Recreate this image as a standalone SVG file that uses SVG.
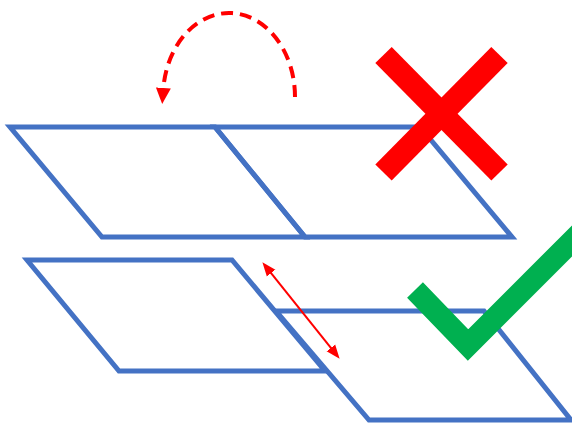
<svg xmlns="http://www.w3.org/2000/svg" width="572" height="423" viewBox="0 0 572 423">
<style>
.para{fill:none;stroke:#4472C4;stroke-width:5;stroke-linejoin:miter}
.red{stroke:#FF0000;fill:none}
</style>
<defs>
<marker id="ah" markerUnits="userSpaceOnUse" markerWidth="16" markerHeight="16" refX="1" refY="7" orient="auto-start-reverse" viewBox="0 0 15 14">
<path d="M0,0 L15,7 L0,14 z" fill="#FF0000"/>
</marker>
<marker id="ahs" markerUnits="userSpaceOnUse" markerWidth="14" markerHeight="12" refX="1" refY="5.5" orient="auto-start-reverse" viewBox="0 0 14 11">
<path d="M0,0 L14,5.5 L0,11 z" fill="#FF0000"/>
</marker>
</defs>
<rect width="572" height="423" fill="#FFFFFF"/>
<g id="para-top-left"><polygon class="para" points="10,127 215,127 305,237 102,237"/></g>
<g id="para-top-right"><polygon class="para" points="215,127 420,127 512,237 305,237"/></g>
<g id="para-bottom-left"><polygon class="para" points="27,260 232,260 325,371 119,371"/></g>
<g id="para-bottom-right"><polygon class="para" points="276,311 484,311 571,420 369,420"/></g>
<g id="cross">
<line x1="383.5" y1="55" x2="499.5" y2="172.5" stroke="#FF0000" stroke-width="23"/>
<line x1="499.5" y1="55" x2="383.5" y2="172.5" stroke="#FF0000" stroke-width="23"/>
</g>
<g id="check">
<polyline points="415,290 468,345 580,233" fill="none" stroke="#00B050" stroke-width="22" stroke-linejoin="miter"/>
</g>
<g id="connectors">
<path class="red" d="M295,97 A66,84 0 0 0 163.3,89" stroke-width="4" stroke-dasharray="12 7" marker-end="url(#ah)"/>
<line class="red" x1="270.5" y1="272.4" x2="331.5" y2="348.6" stroke-width="2" marker-start="url(#ahs)" marker-end="url(#ahs)"/>
</g>
</svg>
